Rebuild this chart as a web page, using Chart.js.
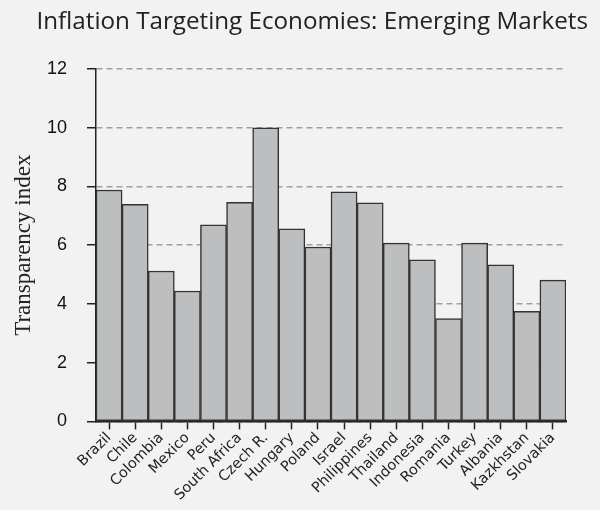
<!DOCTYPE html>
<html>
<head>
<meta charset="utf-8">
<script src="https://cdn.jsdelivr.net/npm/chart.js@4.4.1/dist/chart.umd.min.js"></script>
<style>
  html, body { margin: 0; padding: 0; background: #f2f2f2; }
  #wrap { width: 600px; height: 510px; }
</style>
</head>
<body>
<div id="wrap"><canvas id="chart"></canvas></div>
<script>
// Data
const countries = ['Brazil', 'Chile', 'Colombia', 'Mexico', 'Peru', 'South Africa', 'Czech R.',
    'Hungary', 'Poland', 'Israel', 'Philippines', 'Thailand', 'Indonesia', 'Romania',
    'Turkey', 'Albania', 'Kazkhstan', 'Slovakia'];
const transparency = [7.88, 7.39, 5.12, 4.44, 6.69, 7.46, 10.0, 6.56, 5.94, 7.82,
    7.44, 6.07, 5.50, 3.50, 6.07, 5.33, 3.75, 4.81];
const yTicks = [0, 2, 4, 6, 8, 10, 12];

const chartTitle = 'Inflation Targeting Economies: Emerging Markets';

// Title is offset to the right of the canvas centre in the original
const titlePlugin = {
    id: 'offsetTitle',
    afterDraw(chart) {
        const ctx = chart.ctx;
        ctx.save();
        ctx.font = '24.2px "Open Sans", "Liberation Sans", sans-serif';
        ctx.fillStyle = '#222';
        ctx.textAlign = 'right';
        ctx.textBaseline = 'alphabetic';
        ctx.fillText(chartTitle, 588, 29);
        ctx.restore();
    }
};

document.addEventListener('DOMContentLoaded', function() {
    const ctx = document.getElementById('chart').getContext('2d');
    new Chart(ctx, {
        type: 'bar',
        data: {
            labels: countries,
            datasets: [{
                data: transparency,
                backgroundColor: '#bdbebf',
                borderColor: '#333333',
                borderWidth: 1.5,
                borderSkipped: false,
                barPercentage: 1,
                categoryPercentage: 1
            }]
        },
        options: {
            responsive: true,
            maintainAspectRatio: false,
            animation: false,
            layout: { padding: { top: 69, right: 34, left: 6, bottom: 6 } },
            plugins: {
                legend: { display: false },
                title: { display: false },
                tooltip: { enabled: false }
            },
            scales: {
                x: {
                    offset: true,
                    // rotated labels may hang into the y axis area, like the original
                    afterFit(scale) {
                        scale.paddingLeft = 0;
                        scale.paddingRight = 0;
                    },
                    grid: {
                        offset: false,
                        drawOnChartArea: false,
                        tickLength: 8,
                        tickColor: '#222',
                        tickWidth: 1.5
                    },
                    border: { color: '#222', width: 2.5 },
                    ticks: {
                        autoSkip: false,
                        minRotation: 45,
                        maxRotation: 45,
                        padding: 0,
                        color: '#222',
                        font: { family: '"DejaVu Sans", Verdana, sans-serif', size: 14.5 }
                    }
                },
                y: {
                    min: 0,
                    max: 12,
                    afterBuildTicks(axis) {
                        axis.ticks = yTicks.map(v => ({ value: v }));
                    },
                    afterFit(scale) {
                        scale.width = 90;
                    },
                    grid: {
                        color: '#a0a0a0',
                        lineWidth: 1.5,
                        tickColor: '#222',
                        tickWidth: 1.5,
                        tickLength: 9,
                        tickBorderDash: []
                    },
                    border: { color: '#222', width: 1.5, dash: [6, 4] },
                    ticks: {
                        padding: 20,
                        color: '#111',
                        font: { family: '"Liberation Sans", Arial, sans-serif', size: 18 }
                    },
                    title: {
                        display: true,
                        text: 'Transparency index',
                        color: '#222',
                        padding: { top: 4, bottom: 9 },
                        font: { family: '"Liberation Serif", "Times New Roman", serif', size: 23 }
                    }
                }
            }
        },
        plugins: [titlePlugin]
    });
});
</script>
</body>
</html>
